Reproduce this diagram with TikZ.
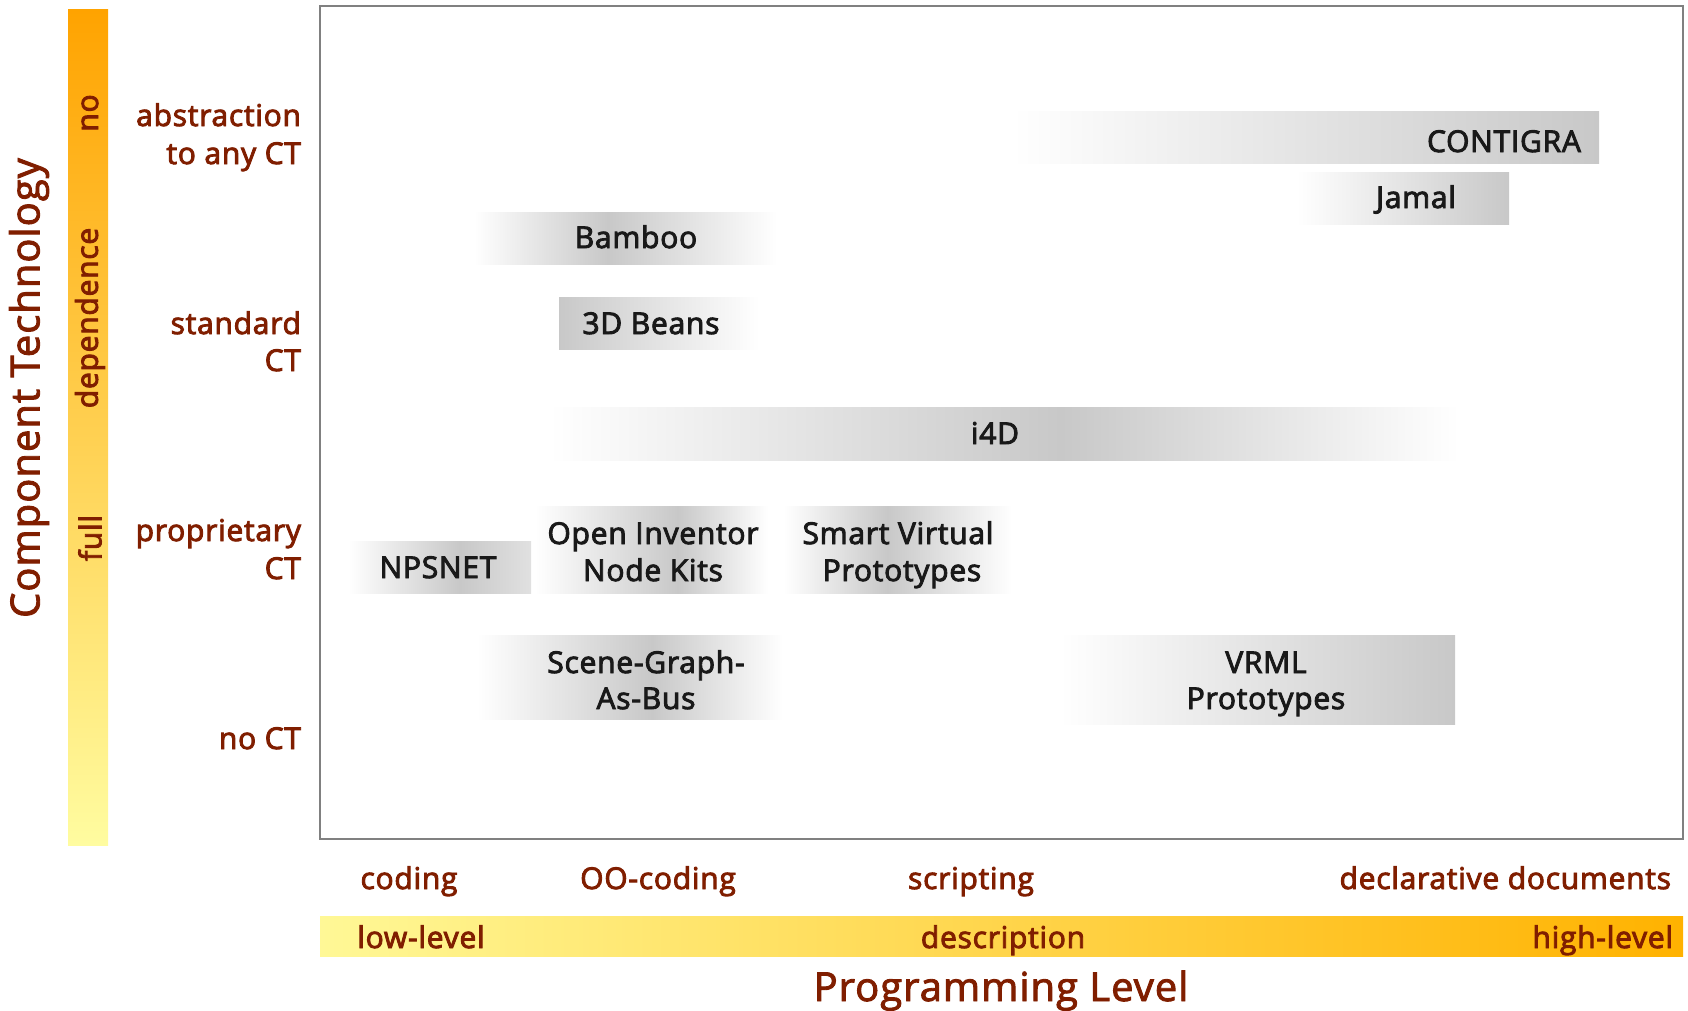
\documentclass[tikz,border=0pt]{standalone}
\usepackage{fontspec}
\setmainfont{Open Sans}[LetterSpace=2.5]
\newcommand\heavytext{\special{pdf:literal direct 2 Tr 0.9 w}}
\definecolor{lab}{RGB}{128,30,0}
\definecolor{boxg}{RGB}{200,200,200}
\definecolor{barTop}{RGB}{255,163,0}
\definecolor{barBot}{RGB}{255,252,160}
\definecolor{hbarL}{RGB}{255,248,150}
\definecolor{hbarR}{RGB}{255,178,0}
\newcommand\gbox[7]{%
  \shade[left color=#6,right color=boxg] (#1,#4) rectangle (#2,#5);
  \shade[left color=boxg,right color=#7] (#2,#4) rectangle (#3,#5);}
\begin{document}
\begin{tikzpicture}[x=1pt,y=-1pt,
  every node/.style={inner sep=0pt,outer sep=0pt},
  lbl/.style={text=lab,font=\fontsize{30}{38}\selectfont\heavytext,anchor=base},
  rlbl/.style={lbl,anchor=base east},
  vlbl/.style={text=lab,font=\fontsize{30}{38}\selectfont\heavytext,rotate=90},
  boxtxt/.style={text=black!90,font=\fontsize{30}{38}\selectfont\heavytext,anchor=base},
  frame/.style={draw=black!50,line width=2pt}]
\useasboundingbox (0,0) rectangle (1688,1010);

% vertical bar
\shade[top color=barTop,bottom color=barBot] (68,9) rectangle (108,845);
\node[vlbl] (ctl) at (29,388) {\fontsize{40}{48}\selectfont Component Technology};
\node[vlbl] (vno) at (90,113) {no};
\node[vlbl] (vdep) at (90,318) {dependence};
\node[vlbl] (vfull) at (90,538) {full};

% row labels
\node[rlbl] (r1a) at (301,126) {abstraction};
\node[rlbl] (r1b) at (301,164) {to any CT};
\node[rlbl] (r2a) at (301,334) {standard};
\node[rlbl] (r2b) at (301,371) {CT};
\node[rlbl] (r3a) at (301,541) {proprietary};
\node[rlbl] (r3b) at (301,579) {CT};
\node[rlbl] (r4) at (301,749) {no CT};

% frame
\draw[frame] (320,6) rectangle (1683,839);

% boxes
\shade[left color=white,right color=boxg] (1012,111) rectangle (1599,163);
\node[boxtxt] (contigra) at (1504,152) {CONTIGRA};
\shade[left color=white,right color=boxg] (1297,172) rectangle (1509,224);
\node[boxtxt] (jamal) at (1416,208) {Jamal};
\gbox{474}{608}{777}{212}{264}{white}{white}
\node[boxtxt] (bamboo) at (636,248) {Bamboo};
\shade[left color=boxg,right color=white] (559,297) rectangle (759,349);
\node[boxtxt] (beans) at (651,334) {3D Beans};
\gbox{549}{1061}{1459}{407}{460}{white}{white}
\node[boxtxt] (i4d) at (995,444) {i4D};
\gbox{348}{460}{531}{541}{593}{white}{black!12}
\node[boxtxt] (npsnet) at (438,578) {NPSNET};
\gbox{535}{678}{768}{506}{593}{white}{white}
\node[boxtxt] (oinka) at (653,544) {Open Inventor};
\node[boxtxt] (oinkb) at (653,581) {Node Kits};
\gbox{784}{887}{1012}{506}{593}{white}{white}
\node[boxtxt] (svpa) at (898,544) {Smart Virtual};
\node[boxtxt] (svpb) at (902,581) {Prototypes};
\gbox{477}{652}{783}{635}{719}{white}{white}
\node[boxtxt] (sgaba) at (646,673) {Scene-Graph-};
\node[boxtxt] (sgabb) at (646,709) {As-Bus};
\shade[left color=white,right color=boxg] (1060,635) rectangle (1455,724);
\node[boxtxt] (vrmla) at (1266,673) {VRML};
\node[boxtxt] (vrmlb) at (1266,709) {Prototypes};

% bottom labels
\node[lbl] (coding) at (409,889) {coding};
\node[lbl] (oocoding) at (658,889) {OO-coding};
\node[lbl] (scripting) at (971,889) {scripting};
\node[rlbl] (decl) at (1671,889) {declarative documents};

% horizontal bar
\shade[left color=hbarL,right color=hbarR] (320,916) rectangle (1683,956);
\node[lbl] (low) at (421,948) {low-level};
\node[lbl] (desc) at (1003,948) {description};
\node[rlbl] (high) at (1673,948) {high-level};
\node[lbl] (plevel) at (1001,1001) {\fontsize{40}{48}\selectfont Programming Level};
\end{tikzpicture}
\end{document}
